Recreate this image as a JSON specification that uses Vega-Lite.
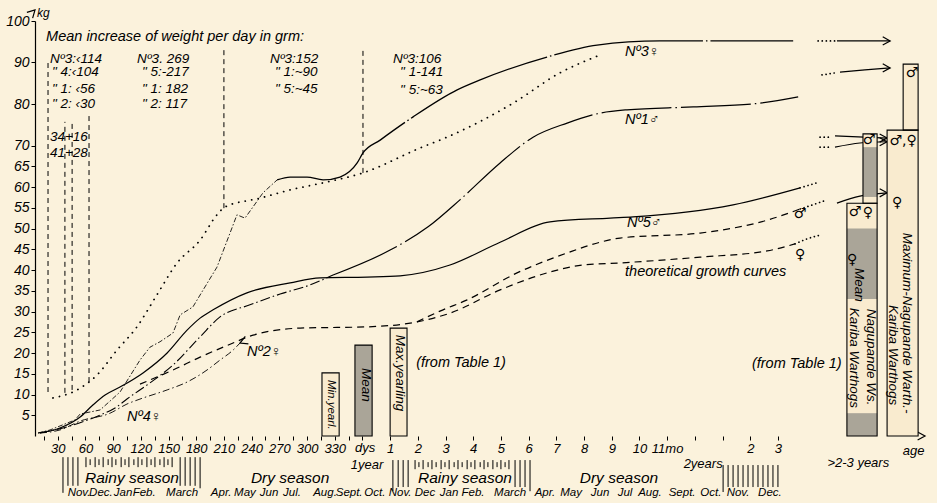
{
"$schema":"https://vega.github.io/schema/vega-lite/v6.json",
"width":895.3,"height":415,
"autosize":{"type":"none"},
"padding":{"left":35,"top":21,"right":6.7,"bottom":67},
"background":"#fbf2dc",
"config":{"view":{"stroke":null},"text":{"font":"Liberation Sans","fontStyle":"italic","color":"black"},"axis":{"labelFont":"Liberation Sans","labelFontStyle":"italic","labelColor":"black","grid":false,"title":null}},
"datasets":{
"cv":[
{"id":"n3a","m":0.29,"kg":0.72},{"id":"n3a","m":0.72,"kg":1.45},{"id":"n3a","m":1.08,"kg":2.41},{"id":"n3a","m":1.62,"kg":3.86},{"id":"n3a","m":1.81,"kg":5.3},{"id":"n3a","m":2.53,"kg":6.27},{"id":"n3a","m":2.89,"kg":8.43},{"id":"n3a","m":3.25,"kg":10.6},{"id":"n3a","m":3.97,"kg":18.3},{"id":"n3a","m":4.33,"kg":21.4},{"id":"n3a","m":4.69,"kg":22.7},{"id":"n3a","m":5.16,"kg":24.8},{"id":"n3a","m":5.42,"kg":29.2},{"id":"n3a","m":5.88,"kg":31.1},{"id":"n3a","m":6.25,"kg":35.2},{"id":"n3a","m":6.75,"kg":40.7},{"id":"n3a","m":7.22,"kg":48.9},{"id":"n3a","m":7.47,"kg":53.3},{"id":"n3a","m":7.76,"kg":52.5},{"id":"n3a","m":8.05,"kg":55.2},{"id":"n3a","m":8.41,"kg":58.6},{"id":"n3a","m":8.92,"kg":61.7},
{"id":"n3b","m":8.92,"kg":61.7},{"id":"n3b","m":9.39,"kg":62.4},{"id":"n3b","m":10.0,"kg":62.4},{"id":"n3b","m":10.58,"kg":61.7},{"id":"n3b","m":11.19,"kg":62.4},{"id":"n3b","m":11.81,"kg":65.8},{"id":"n3b","m":12.02,"kg":68.2},{"id":"n3b","m":12.64,"kg":71.3},{"id":"n3b","m":13.83,"kg":76.9},{"id":"n3b","m":15.42,"kg":83.4},{"id":"n3b","m":16.25,"kg":85.8},{"id":"n3b","m":18.66,"kg":91.3},{"id":"n3b","m":20.47,"kg":94.2},{"id":"n3b","m":22.74,"kg":95.2},{"id":"n3b","m":27.55,"kg":95.2},
{"id":"dot","m":0.83,"kg":9.16},{"id":"dot","m":1.7,"kg":11.1},{"id":"dot","m":2.42,"kg":14.7},{"id":"dot","m":3.14,"kg":20.7},{"id":"dot","m":3.86,"kg":26.3},{"id":"dot","m":4.58,"kg":34.0},{"id":"dot","m":5.31,"kg":41.7},{"id":"dot","m":6.14,"kg":47.2},{"id":"dot","m":6.75,"kg":53.3},{"id":"dot","m":7.04,"kg":55.2},{"id":"dot","m":8.3,"kg":57.3},{"id":"dot","m":9.39,"kg":59.3},{"id":"dot","m":10.58,"kg":61.0},{"id":"dot","m":12.02,"kg":63.4},{"id":"dot","m":14.08,"kg":69.4},{"id":"dot","m":15.05,"kg":72.0},{"id":"dot","m":17.44,"kg":80.2},{"id":"dot","m":19.13,"kg":87.5},{"id":"dot","m":20.58,"kg":91.8},
{"id":"n1a","m":0.36,"kg":0.72},{"id":"n1a","m":1.44,"kg":2.41},{"id":"n1a","m":2.53,"kg":5.06},{"id":"n1a","m":3.07,"kg":6.75},{"id":"n1a","m":3.5,"kg":8.92},{"id":"n1a","m":4.33,"kg":12.8},{"id":"n1a","m":5.16,"kg":17.1},{"id":"n1a","m":6.14,"kg":23.9},{"id":"n1a","m":6.86,"kg":28.7},{"id":"n1a","m":7.94,"kg":31.6},{"id":"n1a","m":9.03,"kg":34.2},{"id":"n1a","m":10.11,"kg":36.4},{"id":"n1a","m":10.94,"kg":38.8},
{"id":"n1b","m":10.94,"kg":38.8},{"id":"n1b","m":13.0,"kg":44.8},{"id":"n1b","m":14.37,"kg":50.4},{"id":"n1b","m":15.52,"kg":56.9},{"id":"n1b","m":16.97,"kg":65.8},{"id":"n1b","m":18.16,"kg":72.0},{"id":"n1b","m":19.39,"kg":75.4},{"id":"n1b","m":20.58,"kg":77.8},{"id":"n1b","m":21.55,"kg":78.6},{"id":"n1b","m":23.94,"kg":79.3},{"id":"n1b","m":26.35,"kg":80.2},{"id":"n1b","m":27.73,"kg":81.7},
{"id":"n5","m":0.29,"kg":0.72},{"id":"n5","m":1.08,"kg":1.93},{"id":"n5","m":1.81,"kg":4.58},{"id":"n5","m":2.27,"kg":7.47},{"id":"n5","m":2.71,"kg":9.88},{"id":"n5","m":3.25,"kg":11.8},{"id":"n5","m":4.08,"kg":15.2},{"id":"n5","m":4.95,"kg":20.0},{"id":"n5","m":5.67,"kg":25.5},{"id":"n5","m":6.14,"kg":28.4},{"id":"n5","m":6.61,"kg":30.4},{"id":"n5","m":7.83,"kg":34.5},{"id":"n5","m":9.39,"kg":36.9},{"id":"n5","m":10.47,"kg":38.1},{"id":"n5","m":12.17,"kg":38.3},{"id":"n5","m":13.36,"kg":38.6},{"id":"n5","m":15.16,"kg":41.2},{"id":"n5","m":16.97,"kg":46.7},{"id":"n5","m":18.77,"kg":51.6},{"id":"n5","m":20.94,"kg":52.5},{"id":"n5","m":21.77,"kg":52.8},{"id":"n5","m":25.38,"kg":55.7},{"id":"n5","m":27.8,"kg":59.8},
{"id":"n4","m":0.36,"kg":0.72},{"id":"n4","m":1.08,"kg":1.45},{"id":"n4","m":1.81,"kg":3.6},{"id":"n4","m":2.89,"kg":5.5},{"id":"n4","m":3.5,"kg":7.7},{"id":"n4","m":3.97,"kg":8.9},{"id":"n4","m":4.95,"kg":11.1},{"id":"n4","m":5.67,"kg":13.0},{"id":"n4","m":6.39,"kg":15.9},{"id":"n4","m":6.86,"kg":18.3},{"id":"n4","m":7.33,"kg":20.7},{"id":"n4","m":7.58,"kg":22.4},
{"id":"tf","m":3.97,"kg":12.5},{"id":"tf","m":5.16,"kg":15.9},{"id":"tf","m":6.14,"kg":19.0},{"id":"tf","m":7.33,"kg":22.4},{"id":"tf","m":8.05,"kg":24.3},{"id":"tf","m":9.75,"kg":26.0},{"id":"tf","m":12.17,"kg":26.3},{"id":"tf","m":13.97,"kg":27.5},{"id":"tf","m":15.16,"kg":29.6},{"id":"tf","m":16.97,"kg":35.2},{"id":"tf","m":18.77,"kg":39.5},{"id":"tf","m":19.96,"kg":41.2},{"id":"tf","m":21.3,"kg":41.7},{"id":"tf","m":24.19,"kg":43.1},{"id":"tf","m":26.61,"kg":44.6},{"id":"tf","m":27.62,"kg":46.3},
{"id":"tm","m":13.97,"kg":27.5},{"id":"tm","m":14.8,"kg":30.1},{"id":"tm","m":15.78,"kg":32.8},{"id":"tm","m":17.58,"kg":39.3},{"id":"tm","m":19.39,"kg":44.1},{"id":"tm","m":20.58,"kg":46.7},{"id":"tm","m":21.3,"kg":47.7},{"id":"tm","m":24.19,"kg":48.9},{"id":"tm","m":26.61,"kg":52.0},{"id":"tm","m":27.8,"kg":54.7},
{"id":"x_tf","m":27.62,"kg":46.3},{"id":"x_tf","m":28.05,"kg":47.5},{"id":"x_tf","m":28.52,"kg":48.4},
{"id":"x_tm","m":27.8,"kg":54.7},{"id":"x_tm","m":28.34,"kg":55.9},{"id":"x_tm","m":28.77,"kg":56.9},
{"id":"x_n5","m":27.8,"kg":59.8},{"id":"x_n5","m":28.0,"kg":60.2},{"id":"x_n5","m":28.5,"kg":61.2},
{"id":"x_top","m":28.45,"kg":95.2},{"id":"x_top","m":29.06,"kg":95.2},
{"id":"x_88","m":28.59,"kg":87.0},{"id":"x_88","m":29.06,"kg":87.5},
{"id":"x_72a","m":28.52,"kg":72.0},{"id":"x_72a","m":28.88,"kg":72.0},
{"id":"x_72b","m":28.52,"kg":69.6},{"id":"x_72b","m":28.88,"kg":69.6},
{"id":"a_top","m":29.13,"kg":95.2},{"id":"a_top","m":31.05,"kg":95.2},
{"id":"a_88","m":29.24,"kg":87.7},{"id":"a_88","m":30.14,"kg":88.2},{"id":"a_88","m":31.05,"kg":88.7},
{"id":"a_72a","m":29.06,"kg":72.3},{"id":"a_72a","m":30.94,"kg":71.8},
{"id":"a_72b","m":29.06,"kg":69.6},{"id":"a_72b","m":29.96,"kg":70.6},{"id":"a_72b","m":30.94,"kg":70.9},
{"id":"a_58","m":29.13,"kg":56.1},{"id":"a_58","m":29.96,"kg":57.8},{"id":"a_58","m":30.94,"kg":58.6}
],
"heads":[
{"m":31.05,"kg":95.2,"dir":"r"},{"m":31.05,"kg":88.7,"dir":"r"},{"m":30.94,"kg":71.8,"dir":"r"},{"m":30.94,"kg":70.9,"dir":"r"},{"m":30.94,"kg":58.6,"dir":"r"},{"m":7.58,"kg":22.4,"dir":"ur"},{"m":32.31,"kg":0,"dir":"r"},{"m":0.18,"kg":102.65,"dir":"u"}
],
"vd":[
{"m":0.65,"kg":10.6,"kg2":90.6},{"m":1.26,"kg":10.4,"kg2":75.7},{"m":1.52,"kg":11.1,"kg2":75.7},{"m":2.13,"kg":13.0,"kg2":77.8},{"m":7.0,"kg":54.9,"kg2":93.0},{"m":12.02,"kg":63.4,"kg2":93.0}
],
"st":[
{"m":1.19,"kg":-5.1,"kg2":-13.7},{"m":1.37,"kg":-5.1,"kg2":-12},{"m":1.55,"kg":-5.1,"kg2":-12},{"m":1.73,"kg":-5.1,"kg2":-12},
{"m":2.02,"kg":-5.1,"kg2":-7.5},{"m":2.17,"kg":-5.6,"kg2":-7},{"m":2.35,"kg":-5.1,"kg2":-7.5},{"m":2.49,"kg":-5.6,"kg2":-7},{"m":2.64,"kg":-5.1,"kg2":-7.5},{"m":2.82,"kg":-5.6,"kg2":-7},{"m":2.96,"kg":-5.1,"kg2":-7.5},{"m":3.1,"kg":-5.6,"kg2":-7},{"m":3.29,"kg":-5.1,"kg2":-7.5},{"m":3.43,"kg":-5.6,"kg2":-7},{"m":3.57,"kg":-5.1,"kg2":-7.5},{"m":3.75,"kg":-5.6,"kg2":-7},{"m":3.9,"kg":-5.1,"kg2":-7.5},{"m":4.04,"kg":-5.6,"kg2":-7},{"m":4.22,"kg":-5.1,"kg2":-7.5},{"m":4.37,"kg":-5.6,"kg2":-7},{"m":4.51,"kg":-5.1,"kg2":-7.5},{"m":4.69,"kg":-5.6,"kg2":-7},{"m":4.84,"kg":-5.1,"kg2":-7.5},{"m":4.98,"kg":-5.6,"kg2":-7},{"m":5.13,"kg":-5.1,"kg2":-7.5},
{"m":5.42,"kg":-5.1,"kg2":-12},{"m":5.6,"kg":-5.1,"kg2":-12},{"m":5.78,"kg":-5.1,"kg2":-12},{"m":5.96,"kg":-5.1,"kg2":-12},{"m":6.14,"kg":-5.1,"kg2":-12.6},
{"m":13.1,"kg":-5.8,"kg2":-13.3},{"m":13.29,"kg":-5.8,"kg2":-12.3},{"m":13.47,"kg":-5.8,"kg2":-12.3},{"m":13.65,"kg":-5.8,"kg2":-12.3},
{"m":13.9,"kg":-5.8,"kg2":-8},{"m":14.04,"kg":-6.3,"kg2":-7.5},{"m":14.19,"kg":-5.8,"kg2":-8},{"m":14.37,"kg":-6.3,"kg2":-7.5},{"m":14.51,"kg":-5.8,"kg2":-8},{"m":14.66,"kg":-6.3,"kg2":-7.5},{"m":14.84,"kg":-5.8,"kg2":-8},{"m":14.98,"kg":-6.3,"kg2":-7.5},{"m":15.13,"kg":-5.8,"kg2":-8},{"m":15.31,"kg":-6.3,"kg2":-7.5},{"m":15.45,"kg":-5.8,"kg2":-8},{"m":15.6,"kg":-6.3,"kg2":-7.5},{"m":15.78,"kg":-5.8,"kg2":-8},{"m":15.92,"kg":-6.3,"kg2":-7.5},{"m":16.06,"kg":-5.8,"kg2":-8},{"m":16.25,"kg":-6.3,"kg2":-7.5},{"m":16.39,"kg":-5.8,"kg2":-8},{"m":16.53,"kg":-6.3,"kg2":-7.5},{"m":16.71,"kg":-5.8,"kg2":-8},{"m":16.86,"kg":-6.3,"kg2":-7.5},{"m":17.0,"kg":-5.8,"kg2":-8},{"m":17.15,"kg":-6.3,"kg2":-7.5},{"m":17.29,"kg":-5.8,"kg2":-8},
{"m":17.51,"kg":-5.8,"kg2":-12.3},{"m":17.69,"kg":-5.8,"kg2":-12.3},{"m":17.87,"kg":-5.8,"kg2":-12.3},{"m":18.05,"kg":-5.8,"kg2":-13.3},
{"m":25.02,"kg":-7.0,"kg2":-13.5},{"m":25.2,"kg":-7.0,"kg2":-12.3},{"m":25.38,"kg":-7.0,"kg2":-12.3},{"m":25.56,"kg":-7.0,"kg2":-12.3},{"m":25.74,"kg":-7.0,"kg2":-12.3},{"m":25.92,"kg":-7.0,"kg2":-12.3},{"m":26.1,"kg":-7.0,"kg2":-12.3},{"m":26.28,"kg":-7.0,"kg2":-12.3},{"m":26.46,"kg":-7.0,"kg2":-12.3},{"m":26.64,"kg":-7.0,"kg2":-12.3},{"m":26.82,"kg":-7.0,"kg2":-12.3},{"m":27.0,"kg":-7.0,"kg2":-12.3}
],
"boxes":[
{"b":"ymin","m":10.54,"m2":11.16,"kg":0,"kg2":15.2},
{"b":"ymean","m":11.73,"m2":12.35,"kg":0,"kg2":21.9},
{"b":"ymax","m":13.0,"m2":13.61,"kg":0,"kg2":26.0},
{"b":"R1","m":29.49,"m2":30.58,"kg":0,"kg2":56.1},
{"b":"R2","m":30.07,"m2":30.58,"kg":56.1,"kg2":72.8},
{"b":"R3","m":30.94,"m2":32.06,"kg":0,"kg2":73.7},
{"b":"R4","m":31.52,"m2":32.06,"kg":73.7,"kg2":89.6}
],
"hatch":[
{"h":"ymean","m":11.73,"m2":12.35,"kg":0,"kg2":21.9},
{"h":"r1a","m":29.49,"m2":30.58,"kg":0,"kg2":5.5},
{"h":"r1b","m":29.49,"m2":30.58,"kg":33,"kg2":50},
{"h":"r2","m":30.07,"m2":30.58,"kg":57.6,"kg2":69.6}
],
"tx":[
{"r":"note","m":0.58,"kg":96.1,"t":"Mean increase of weight per day in grm:"},
{"r":"col","m":0.72,"kg":90.8,"t":"Nº3:‹114"},
{"r":"col","m":0.79,"kg":87.6,"t":"\" 4:‹104"},
{"r":"col","m":0.79,"kg":83.6,"t":"\" 1: ‹56"},
{"r":"col","m":0.79,"kg":80.0,"t":"\" 2: ‹30"},
{"r":"col","m":0.72,"kg":72.0,"t":"34+16"},
{"r":"col","m":0.72,"kg":68.2,"t":"41+28"},
{"r":"col","m":3.86,"kg":90.8,"t":"Nº3. 269"},
{"r":"col","m":4.04,"kg":87.6,"t":"\" 5:-217"},
{"r":"col","m":4.04,"kg":83.6,"t":"\" 1: 182"},
{"r":"col","m":4.04,"kg":80.0,"t":"\" 2: 117"},
{"r":"col","m":8.66,"kg":90.8,"t":"Nº3:152"},
{"r":"col","m":8.84,"kg":87.6,"t":"\" 1:~90"},
{"r":"col","m":8.84,"kg":83.6,"t":"\" 5:~45"},
{"r":"col","m":13.1,"kg":90.8,"t":"Nº3:106"},
{"r":"col","m":13.36,"kg":87.6,"t":"\" 1-141"},
{"r":"col","m":13.36,"kg":83.4,"t":"\" 5:~63"},
{"r":"note","m":21.48,"kg":92.5,"t":"Nº3♀"},
{"r":"note","m":21.48,"kg":76.1,"t":"Nº1♂"},
{"r":"note","m":21.55,"kg":51.3,"t":"Nº5♂"},
{"r":"note","m":21.48,"kg":39.5,"t":"theoretical growth curves"},
{"r":"note","m":7.83,"kg":20.2,"t":"Nº2♀"},
{"r":"note","m":3.5,"kg":4.6,"t":"Nº4♀"},
{"r":"note","m":13.94,"kg":17.6,"t":"(from Table 1)"},
{"r":"note","m":26.06,"kg":17.3,"t":"(from Table 1)"},
{"r":"small","m":0.25,"kg":101.9,"t":"kg"},
{"r":"month","m":1.77,"kg":-13.7,"t":"Nov."},{"r":"month","m":2.56,"kg":-13.7,"t":"Dec."},{"r":"month","m":3.36,"kg":-13.7,"t":"Jan"},{"r":"month","m":4.12,"kg":-13.7,"t":"Feb."},{"r":"month","m":5.49,"kg":-13.7,"t":"March"},{"r":"month","m":6.9,"kg":-13.7,"t":"Apr."},{"r":"month","m":7.76,"kg":-13.7,"t":"May"},{"r":"month","m":8.63,"kg":-13.7,"t":"Jun"},{"r":"month","m":9.46,"kg":-13.7,"t":"Jul."},{"r":"month","m":10.65,"kg":-13.7,"t":"Aug."},{"r":"month","m":11.52,"kg":-13.7,"t":"Sept."},{"r":"month","m":12.45,"kg":-13.7,"t":"Oct."},
{"r":"month","m":13.36,"kg":-13.7,"t":"Nov."},{"r":"month","m":14.26,"kg":-13.7,"t":"Dec"},{"r":"month","m":15.13,"kg":-13.7,"t":"Jan"},{"r":"month","m":15.99,"kg":-13.7,"t":"Feb."},{"r":"month","m":17.33,"kg":-13.7,"t":"March"},{"r":"month","m":18.59,"kg":-13.7,"t":"Apr."},{"r":"month","m":19.53,"kg":-13.7,"t":"May"},{"r":"month","m":20.58,"kg":-13.7,"t":"Jun"},{"r":"month","m":21.48,"kg":-13.7,"t":"Jul"},{"r":"month","m":22.38,"kg":-13.7,"t":"Aug."},{"r":"month","m":23.54,"kg":-13.7,"t":"Sept."},{"r":"month","m":24.58,"kg":-13.7,"t":"Oct."},{"r":"month","m":25.56,"kg":-13.7,"t":"Nov."},{"r":"month","m":26.71,"kg":-13.7,"t":"Dec."},
{"r":"season","m":3.68,"kg":-10.0,"t":"Rainy season"},
{"r":"season","m":9.39,"kg":-10.0,"t":"Dry  season"},
{"r":"season","m":15.7,"kg":-10.1,"t":"Rainy season"},
{"r":"season","m":21.26,"kg":-10.1,"t":"Dry  season"},
{"r":"ax2","m":12.1,"kg":-2.8,"t":"dys"},
{"r":"ax2","m":12.17,"kg":-6.9,"t":"1year"},
{"r":"ax2","m":24.3,"kg":-6.8,"t":"2years"},
{"r":"ax2","m":29.9,"kg":-6.6,"t":">2-3 years"},
{"r":"ax2","m":31.9,"kg":-3.6,"t":"age"},
{"r":"sym","m":31.84,"kg":87.5,"t":"♂"},
{"r":"sym","m":30.29,"kg":71.3,"t":"♂"},
{"r":"sym","m":31.52,"kg":71.1,"t":"♂,♀"},
{"r":"sym","m":31.3,"kg":56.1,"t":"♀"},
{"r":"sym","m":29.78,"kg":54.0,"t":"♂"},
{"r":"sym","m":30.25,"kg":53.7,"t":"♀"},
{"r":"sym","m":29.68,"kg":42.4,"t":"♀"},
{"r":"sym","m":27.8,"kg":53.5,"t":"♂"},
{"r":"sym","m":27.8,"kg":43.6,"t":"♀"},
{"r":"vert","m":12.13,"kg":12.3,"t":"Mean"},
{"r":"vert","m":13.36,"kg":15.2,"t":"Max.yearling"},
{"r":"vsmall","m":10.86,"kg":7.5,"t":"Min.yearl."},
{"r":"vert","m":29.93,"kg":36.4,"t":"Mean"},
{"r":"vert","m":30.36,"kg":19.0,"t":"Nagupande Ws."},
{"r":"vert","m":29.73,"kg":18.8,"t":"Kariba Warthogs"},
{"r":"vert","m":31.66,"kg":27.2,"t":"Maximum-Nagupande Warth.-"},
{"r":"vert","m":31.16,"kg":19.5,"t":"Kariba Warthogs"}
]
},
"encoding":{
"x":{"field":"m","type":"quantitative","scale":{"domain":[0.18,32.5],"nice":false,"zero":false},
"axis":{"values":[0.5,1,1.5,2,2.5,3,3.5,4,4.5,5,5.5,6,6.5,7,7.5,8,8.5,9,9.5,10,10.5,11,11.5,12,13,14,15,16,17,18,19,20,21,22,23,24,25,26,27],
"labelExpr":"datum.value <= 11 && datum.value == floor(datum.value) ? '' + (datum.value*30) : (datum.value >= 13 && datum.value <= 22 ? '' + (datum.value - 12) : (datum.value == 23 ? '11mo' : (datum.value == 26 ? '2' : (datum.value == 27 ? '3' : ''))))",
"domain":false,"tickSize":4,"tickColor":"black","labelFontSize":13,"labelPadding":2,"labelOverlap":false,"labelBound":false,"labelFlush":false,"title":null,"grid":false}},
"y":{"field":"kg","type":"quantitative","scale":{"domain":[0,100],"nice":false,"zero":false},
"axis":{"values":[5,10,15,20,25,30,35,40,45,50,55,60,65,70,80,90,100],"domainColor":"black","domainWidth":1.2,"tickColor":"black","tickSize":4,"labelFontSize":14,"labelPadding":2,"title":null,"grid":false,"labelBound":false}}
},
"layer":[
{"data":{"values":[{}]},"mark":{"type":"rect","fill":{"gradient":"linear","x1":0,"y1":0,"x2":1,"y2":0,"stops":[{"offset":0,"color":"#fcf7e4"},{"offset":1,"color":"#f8e4c3"}]}},
 "encoding":{"x":{"datum":-2,"type":"quantitative"},"x2":{"datum":34},"y":{"datum":110,"type":"quantitative"},"y2":{"datum":-20}}},
{"data":{"values":[{}]},"mark":{"type":"rule","color":"black","strokeWidth":1.2},"encoding":{"x":{"datum":0.18,"type":"quantitative"},"x2":{"datum":25.88},"y":{"datum":0,"type":"quantitative"}}},
{"data":{"values":[{}]},"mark":{"type":"rule","color":"black","strokeWidth":1.6,"strokeDash":[0.1,4.5],"strokeCap":"round"},"encoding":{"x":{"datum":25.88,"type":"quantitative"},"x2":{"datum":28.41},"y":{"datum":0,"type":"quantitative"}}},
{"data":{"values":[{}]},"mark":{"type":"rule","color":"black","strokeWidth":1.2},"encoding":{"x":{"datum":28.41,"type":"quantitative"},"x2":{"datum":32.31},"y":{"datum":0,"type":"quantitative"}}},
{"data":{"values":[{}]},"mark":{"type":"rule","color":"black","strokeWidth":1.2},"encoding":{"x":{"datum":0.18,"type":"quantitative"},"y":{"datum":100,"type":"quantitative"},"y2":{"datum":102.65}}},
{"data":{"name":"vd"},"mark":{"type":"rule","color":"black","strokeWidth":1,"strokeDash":[5,4]},"encoding":{"y2":{"field":"kg2"}}},
{"data":{"name":"st"},"mark":{"type":"rule","color":"black","strokeWidth":1},"encoding":{"y2":{"field":"kg2"}}},
{"data":{"name":"cv"},"transform":[{"filter":"datum.id=='n3a'"}],"mark":{"type":"line","color":"black","strokeWidth":0.85,"strokeDash":[5,2,1.5,2]}},
{"data":{"name":"cv"},"transform":[{"filter":"datum.id=='n4'"}],"mark":{"type":"line","color":"black","strokeWidth":0.9,"strokeDash":[7,3,1.5,3],"interpolate":"monotone"}},
{"data":{"name":"cv"},"transform":[{"filter":"datum.id=='n3b'"}],"mark":{"type":"line","color":"black","strokeWidth":1.3,"strokeDash":[150,3,1.5,3],"interpolate":"monotone"}},
{"data":{"name":"cv"},"transform":[{"filter":"datum.id=='n1a'"}],"mark":{"type":"line","color":"black","strokeWidth":1.1,"strokeDash":[10,3,1.5,3],"interpolate":"monotone"}},
{"data":{"name":"cv"},"transform":[{"filter":"datum.id=='n1b'"}],"mark":{"type":"line","color":"black","strokeWidth":1.2,"strokeDash":[70,4,1.5,4],"interpolate":"monotone"}},
{"data":{"name":"cv"},"transform":[{"filter":"datum.id=='n5' || indexof(datum.id,'a_')==0"}],"mark":{"type":"line","color":"black","strokeWidth":1.2,"interpolate":"monotone"},"encoding":{"detail":{"field":"id"}}},
{"data":{"name":"cv"},"transform":[{"filter":"datum.id=='tf' || datum.id=='tm'"}],"mark":{"type":"line","color":"black","strokeWidth":1.2,"strokeDash":[7,5],"interpolate":"monotone"},"encoding":{"detail":{"field":"id"}}},
{"data":{"name":"cv"},"transform":[{"filter":"datum.id=='dot'"}],"mark":{"type":"line","color":"black","strokeWidth":1.8,"strokeDash":[0.1,6.5],"strokeCap":"round","interpolate":"monotone"}},
{"data":{"name":"cv"},"transform":[{"filter":"indexof(datum.id,'x_')==0"}],"mark":{"type":"line","color":"black","strokeWidth":1.7,"strokeDash":[0.1,4],"strokeCap":"round","interpolate":"monotone"},"encoding":{"detail":{"field":"id"}}},
{"data":{"name":"heads"},"mark":{"type":"point","shape":"M-1,-0.55L0,0L-1,0.55","filled":false,"size":220,"strokeWidth":1.2,"color":"black","opacity":1},
 "encoding":{"angle":{"field":"dir","type":"nominal","scale":{"domain":["r","ur","u"],"range":[0,315,270]},"legend":null}}},
{"data":{"name":"boxes"},"mark":{"type":"rect","fill":"#f9ebcf","strokeWidth":0},"encoding":{"x2":{"field":"m2"},"y2":{"field":"kg2"}}},
{"data":{"name":"hatch"},"mark":{"type":"rect","fill":"#aaa598","strokeWidth":0},"encoding":{"x2":{"field":"m2"},"y2":{"field":"kg2"}}},
{"data":{"name":"boxes"},"mark":{"type":"rect","filled":false,"stroke":"black","strokeWidth":1.1},"encoding":{"x2":{"field":"m2"},"y2":{"field":"kg2"}}},
{"data":{"values":[{}]},"mark":{"type":"rule","color":"black","strokeWidth":1,"strokeDash":[4,3]},"encoding":{"x":{"datum":31.52,"type":"quantitative"},"y":{"datum":56,"type":"quantitative"},"y2":{"datum":70}}},
{"data":{"name":"tx"},"transform":[{"filter":"datum.r=='note'"}],"mark":{"type":"text","align":"left","baseline":"middle","fontSize":14.5},"encoding":{"text":{"field":"t"}}},
{"data":{"name":"tx"},"transform":[{"filter":"datum.r=='col'"}],"mark":{"type":"text","align":"left","baseline":"middle","fontSize":13.5},"encoding":{"text":{"field":"t"}}},
{"data":{"name":"tx"},"transform":[{"filter":"datum.r=='small'"}],"mark":{"type":"text","align":"left","baseline":"middle","fontSize":12},"encoding":{"text":{"field":"t"}}},
{"data":{"name":"tx"},"transform":[{"filter":"datum.r=='month'"}],"mark":{"type":"text","align":"center","baseline":"middle","fontSize":11.5},"encoding":{"text":{"field":"t"}}},
{"data":{"name":"tx"},"transform":[{"filter":"datum.r=='season'"}],"mark":{"type":"text","align":"center","baseline":"middle","fontSize":15.5},"encoding":{"text":{"field":"t"}}},
{"data":{"name":"tx"},"transform":[{"filter":"datum.r=='ax2'"}],"mark":{"type":"text","align":"center","baseline":"middle","fontSize":13},"encoding":{"text":{"field":"t"}}},
{"data":{"name":"tx"},"transform":[{"filter":"datum.r=='sym'"}],"mark":{"type":"text","align":"center","baseline":"middle","fontSize":14,"font":"DejaVu Sans","fontStyle":"normal"},"encoding":{"text":{"field":"t"}}},
{"data":{"name":"tx"},"transform":[{"filter":"datum.r=='vert'"}],"mark":{"type":"text","align":"center","baseline":"middle","fontSize":13.5,"angle":90},"encoding":{"text":{"field":"t"}}},
{"data":{"name":"tx"},"transform":[{"filter":"datum.r=='vsmall'"}],"mark":{"type":"text","align":"center","baseline":"middle","fontSize":11.5,"angle":90},"encoding":{"text":{"field":"t"}}}
]
}
